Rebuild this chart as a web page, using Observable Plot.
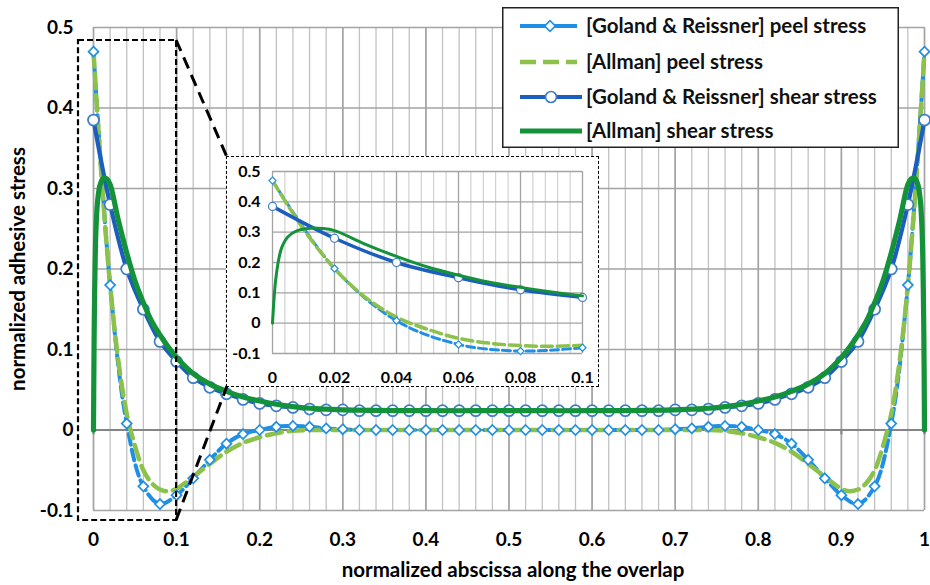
<!DOCTYPE html>
<html><head><meta charset="utf-8">
<script src="https://cdn.jsdelivr.net/npm/d3@7"></script>
<script src="https://cdn.jsdelivr.net/npm/@observablehq/plot@0.6"></script>
<style>
body{margin:0;background:#fff;}
#wrap{position:relative;width:930px;height:585px;font-family:Lato,"Open Sans",sans-serif;font-weight:bold;}
#wrap svg{overflow:visible;display:block;}
#inset{position:absolute;left:226px;top:156px;width:371px;height:229px;border:1px dashed #000;background:#fff;}
#legend{position:absolute;left:502px;top:7px;}
</style></head><body><div id="wrap"></div>
<script>
// ---- data ----
const grX = [0,0.02,0.04,0.06,0.08,0.1,0.12,0.14,0.16,0.18,0.2,0.22,0.24,0.26,0.28,0.3,
  0.32,0.34,0.36,0.38,0.4,0.42,0.44,0.46,0.48,0.5,0.52,0.54,0.56,0.58,0.6,0.62,0.64,0.66,0.68,
  0.7,0.72,0.74,0.76,0.78,0.8,0.82,0.84,0.86,0.88,0.9,0.92,0.94,0.96,0.98,1];
const grPeel = [0.47,0.18,0.008,-0.07,-0.092,-0.081,-0.06,-0.037,-0.017,-0.005,0,0.004,0.005,0.004,0.002,0.001,
  0,0,0,0,0,0,0,0,0,0,0,0,0,0,0,0,0,0,0,
  0.001,0.002,0.004,0.005,0.004,0,-0.005,-0.017,-0.037,-0.06,-0.081,-0.092,-0.07,0.008,0.18,0.47];
const grShear = [0.385,0.28,0.2,0.15,0.11,0.085,0.065,0.053,0.045,0.038,0.033,0.03,0.028,0.026,0.025,0.025,
  0.024,0.024,0.024,0.024,0.024,0.024,0.024,0.024,0.024,0.024,0.024,0.024,0.024,0.024,0.024,0.024,0.024,0.024,0.024,
  0.025,0.025,0.026,0.028,0.03,0.033,0.038,0.045,0.053,0.065,0.085,0.11,0.15,0.2,0.28,0.385];
const alPeelX = [0,0.01,0.02,0.03,0.04,0.05,0.06,0.07,0.08,0.09,0.1,0.12,0.14,0.16,0.18,0.2,0.22,0.24,0.26,
  0.3,0.4,0.5,0.6,0.7,
  0.74,0.76,0.78,0.8,0.82,0.84,0.86,0.88,0.9,0.91,0.92,0.93,0.94,0.95,0.96,0.97,0.98,0.99,1];
const alPeel = [0.47,0.31,0.18,0.085,0.02,-0.02,-0.05,-0.066,-0.074,-0.076,-0.073,-0.058,-0.042,-0.027,-0.016,-0.009,-0.004,-0.001,0,
  0,0,0,0,0,
  0,-0.001,-0.004,-0.009,-0.016,-0.027,-0.042,-0.058,-0.073,-0.076,-0.074,-0.066,-0.05,-0.02,0.02,0.085,0.18,0.31,0.47];
const alShearX = [0,0.0005,0.001,0.002,0.003,0.005,0.008,0.012,0.016,0.02,0.03,0.04,0.05,0.06,0.07,0.08,0.09,0.1,
  0.12,0.14,0.16,0.18,0.2,0.22,0.24,0.26,0.28,0.3,0.4,0.5,0.6,
  0.7,0.72,0.74,0.76,0.78,0.8,0.82,0.84,0.86,0.88,0.9,0.91,0.92,0.93,0.94,0.95,0.96,0.97,0.98,
  0.984,0.988,0.992,0.995,0.997,0.998,0.999,0.9995,1];
const alShear = [0,0.08,0.14,0.21,0.25,0.285,0.305,0.313,0.312,0.305,0.26,0.22,0.185,0.158,0.135,0.118,0.103,0.09,
  0.07,0.057,0.048,0.041,0.036,0.032,0.029,0.027,0.026,0.025,0.024,0.024,0.024,
  0.025,0.026,0.027,0.029,0.032,0.036,0.041,0.048,0.057,0.07,0.09,0.103,0.118,0.135,0.158,0.185,0.22,0.26,0.305,
  0.312,0.313,0.305,0.285,0.25,0.21,0.14,0.08,0];
const xTicks = [0,0.1,0.2,0.3,0.4,0.5,0.6,0.7,0.8,0.9,1];
const yTicks = [-0.1,0,0.1,0.2,0.3,0.4,0.5];
const insetXTicks = [0,0.02,0.04,0.06,0.08,0.1];
const seriesNames = ["[Goland & Reissner] peel stress","[Allman] peel stress","[Goland & Reissner] shear stress","[Allman] shear stress"];
const xTitle = "normalized abscissa along the overlap";
const yTitle = "normalized adhesive stress";
const C = {grPeel:"#1f8fe6", alPeel:"#8cc14c", grShear:"#1b5ec0", grShearMk:"#3d7cc9", alShear:"#14923a"};

// ---- tables ----
const grRows = grX.map((x,i)=>({x, peel:grPeel[i], shear:grShear[i]}));
const alPeelRows = alPeelX.map((x,i)=>({x, y:alPeel[i]}));
const alShearRows = alShearX.map((x,i)=>({x, y:alShear[i]}));
const fmt = d => String(+(+d).toFixed(3));
const xMinor = d3.range(0, 1.0001, 0.02);
const inXMinor = d3.range(0, 0.10001, 0.004);
const FONT = "Lato, 'Open Sans', sans-serif";

const wrap = document.getElementById("wrap");

const main = Plot.plot({
  width:930, height:585,
  marginLeft:93, marginRight:6, marginTop:27, marginBottom:75,
  x:{domain:[0,1]}, y:{domain:[-0.1,0.5]},
  style:{fontFamily:FONT, fontSize:"19px", fontWeight:"bold", color:"#000", overflow:"visible", background:"white"},
  marks:[
    Plot.ruleX(xMinor, {stroke:"#c2c2c2", strokeWidth:1.3}),
    Plot.ruleX(xTicks, {stroke:"#a3a3a3", strokeWidth:1.6}),
    Plot.ruleY(yTicks, {stroke:"#a3a3a3", strokeWidth:1.6}),
    Plot.ruleY([0], {stroke:"#858585", strokeWidth:2}),
    Plot.ruleX(xTicks, {y1:0, y2:0, insetBottom:-5, stroke:"#858585", strokeWidth:2}),
    Plot.axisX(xTicks, {tickSize:0, tickPadding:22, tickFormat:fmt, label:null}),
    Plot.axisY(yTicks, {tickSize:0, tickPadding:20, tickFormat:fmt, label:null}),
    Plot.text([xTitle], {text:d=>d, frameAnchor:"bottom", lineAnchor:"middle", textAnchor:"middle", dx:4, dy:60, fontSize:20.5}),
    Plot.text([yTitle], {text:d=>d, frameAnchor:"left", lineAnchor:"middle", textAnchor:"middle", dx:-75, rotate:-90, fontSize:20.5}),
    Plot.line(grRows, {x:"x", y:"peel", stroke:C.grPeel, strokeWidth:4, strokeDasharray:"11,5", curve:"catmull-rom"}),
    Plot.line(alPeelRows, {x:"x", y:"y", stroke:C.alPeel, strokeWidth:4.5, strokeDasharray:"15,7", curve:"catmull-rom"}),
    Plot.dot(grRows, {x:"x", y:"peel", symbol:"diamond2", r:4.5, stroke:C.grPeel, fill:"white", strokeWidth:1.7}),
    Plot.line(grRows, {x:"x", y:"shear", stroke:C.grShear, strokeWidth:4.2, curve:"catmull-rom"}),
    Plot.dot(grRows, {x:"x", y:"shear", r:5.5, stroke:C.grShearMk, fill:"white", strokeWidth:1.7}),
    Plot.line(alShearRows, {x:"x", y:"y", stroke:C.alShear, strokeWidth:5.2, curve:"catmull-rom"})
  ]
});
wrap.appendChild(main);

// zoom box and connectors (positions from the plot's scales)
const sx = main.scale("x"), sy = main.scale("y");
const bx0 = sx.apply(0) - 15, bx1 = sx.apply(0.1), by0 = sy.apply(0.5) + 13, by1 = sy.apply(-0.1) + 10;
const insetBox = {left:227, top:157, bottom:386};
const g = d3.select(main).append("g");
g.append("rect").attr("x", bx0).attr("y", by0).attr("width", bx1-bx0).attr("height", by1-by0)
  .attr("fill","none").attr("stroke","#000").attr("stroke-width",2.2).attr("stroke-dasharray","6,3");
g.append("line").attr("x1", bx1).attr("y1", by0).attr("x2", insetBox.left).attr("y2", insetBox.top)
  .attr("stroke","#000").attr("stroke-width",3).attr("stroke-dasharray","12,7");
g.append("line").attr("x1", bx1).attr("y1", by1).attr("x2", insetBox.left).attr("y2", insetBox.bottom)
  .attr("stroke","#000").attr("stroke-width",3).attr("stroke-dasharray","12,7");

// ---- inset ----
const inGr = grRows.filter(d => d.x <= 0.1 + 1e-9);
const inAlp = alPeelRows.filter(d => d.x <= 0.1 + 1e-9);
const inAls = alShearRows.filter(d => d.x <= 0.1 + 1e-9);
const inset = Plot.plot({
  width:371, height:229,
  marginLeft:45, marginRight:16, marginTop:14, marginBottom:33,
  x:{domain:[0,0.1]}, y:{domain:[-0.1,0.5]},
  style:{fontFamily:FONT, fontSize:"16px", fontWeight:"bold", color:"#000", overflow:"visible", background:"white"},
  marks:[
    Plot.ruleX(inXMinor, {stroke:"#c8c8c8", strokeWidth:1}),
    Plot.ruleX(insetXTicks, {stroke:"#a3a3a3", strokeWidth:1.3}),
    Plot.ruleY(yTicks, {stroke:"#a3a3a3", strokeWidth:1.3}),
    Plot.axisX(insetXTicks, {tickSize:0, tickPadding:18, tickFormat:fmt, label:null}),
    Plot.axisY(yTicks, {tickSize:0, tickPadding:12, tickFormat:fmt, label:null}),
    Plot.line(inGr, {x:"x", y:"peel", stroke:C.grPeel, strokeWidth:3, strokeDasharray:"8,4", curve:"catmull-rom"}),
    Plot.line(inAlp, {x:"x", y:"y", stroke:C.alPeel, strokeWidth:3.5, strokeDasharray:"11,5", curve:"catmull-rom"}),
    Plot.dot(inGr, {x:"x", y:"peel", symbol:"diamond2", r:3.2, stroke:C.grPeel, fill:"white", strokeWidth:1.2}),
    Plot.line(inGr, {x:"x", y:"shear", stroke:C.grShear, strokeWidth:3.5, curve:"catmull-rom"}),
    Plot.dot(inGr, {x:"x", y:"shear", r:4, stroke:C.grShearMk, fill:"white", strokeWidth:1.2}),
    Plot.line(inAls, {x:"x", y:"y", stroke:C.alShear, strokeWidth:3, curve:"catmull-rom"})
  ]
});
const insetDiv = document.createElement("div");
insetDiv.id = "inset";
insetDiv.appendChild(inset);
wrap.appendChild(insetDiv);

// ---- legend ----
const lw = 397, lh = 141;
const leg = d3.create("svg").attr("id","legend").attr("width", lw).attr("height", lh)
  .style("font-family",FONT).style("font-weight","bold").style("font-size","20.5px");
leg.append("rect").attr("x",0.75).attr("y",0.75).attr("width",lw-1.5).attr("height",lh-1.5)
  .attr("fill","white").attr("stroke","#222").attr("stroke-width",1.5);
const rowsY = [19, 55, 90, 124];
const styles = [
  {stroke:C.grPeel, w:4, dash:null, marker:"diamond", x2:75},
  {stroke:C.alPeel, w:4.5, dash:"16,7", marker:null, x2:75},
  {stroke:C.grShear, w:4.2, dash:null, marker:"circle", x2:80},
  {stroke:C.alShear, w:5, dash:null, marker:null, x2:80}
];
seriesNames.forEach((name,i) => {
  const s = styles[i], y = rowsY[i];
  leg.append("line").attr("x1",18).attr("x2",s.x2).attr("y1",y).attr("y2",y)
    .attr("stroke",s.stroke).attr("stroke-width",s.w).attr("stroke-dasharray",s.dash);
  if (s.marker === "diamond") {
    leg.append("rect").attr("x",-3.8).attr("y",-3.8).attr("width",7.6).attr("height",7.6)
      .attr("transform",`translate(48,${y}) rotate(45)`).attr("fill","white").attr("stroke",C.grPeel).attr("stroke-width",1.7);
  } else if (s.marker === "circle") {
    leg.append("circle").attr("cx",49).attr("cy",y).attr("r",5.5).attr("fill","white").attr("stroke",C.grShearMk).attr("stroke-width",1.7);
  }
  leg.append("text").attr("x",84).attr("y",y).attr("dy","0.35em").attr("fill","#111").text(name);
});
wrap.appendChild(leg.node());
</script></body></html>
